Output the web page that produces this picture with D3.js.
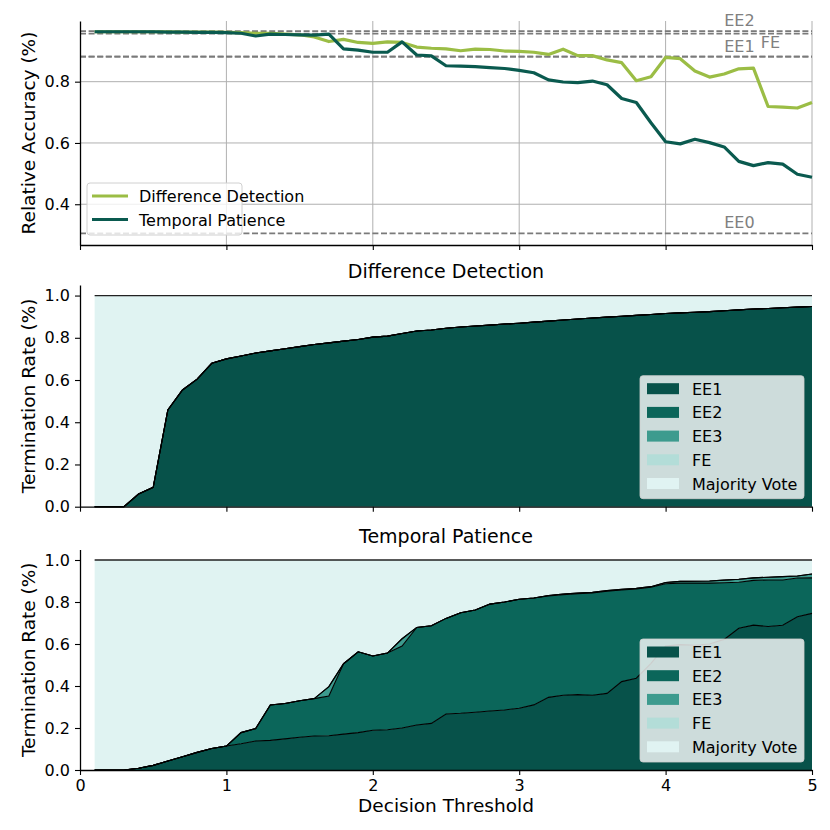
<!DOCTYPE html>
<html>
<head>
<meta charset="utf-8">
<script src="https://cdn.jsdelivr.net/npm/d3@7"></script>
<style>
  body { margin: 0; background: #fff; }
  text { font-family: "DejaVu Sans", sans-serif; }
</style>
</head>
<body>
<div id="chart"></div>
<script>
// decision thresholds (x)
const thresholds = [0.1, 0.2, 0.3, 0.4, 0.5, 0.6, 0.7, 0.8, 0.9, 1.0,
  1.1, 1.2, 1.3, 1.4, 1.5, 1.6, 1.7, 1.8, 1.9, 2.0,
  2.1, 2.2, 2.3, 2.4, 2.5, 2.6, 2.7, 2.8, 2.9, 3.0,
  3.1, 3.2, 3.3, 3.4, 3.5, 3.6, 3.7, 3.8, 3.9, 4.0,
  4.1, 4.2, 4.3, 4.4, 4.5, 4.6, 4.7, 4.8, 4.9, 5.0];

// relative accuracy
const accDiff = [0.963, 0.963, 0.963, 0.963, 0.963, 0.963, 0.962, 0.962, 0.962, 0.961,
  0.960, 0.958, 0.958, 0.955, 0.953, 0.946, 0.931, 0.938, 0.928, 0.925,
  0.930, 0.928, 0.913, 0.909, 0.907, 0.901, 0.906, 0.905, 0.900, 0.899,
  0.896, 0.889, 0.906, 0.885, 0.885, 0.871, 0.862, 0.803, 0.816, 0.879,
  0.875, 0.835, 0.815, 0.825, 0.842, 0.844, 0.719, 0.717, 0.714, 0.732];
const accTemp = [0.963, 0.963, 0.963, 0.963, 0.963, 0.962, 0.962, 0.961, 0.961, 0.960,
  0.958, 0.949, 0.955, 0.954, 0.953, 0.952, 0.955, 0.907, 0.903, 0.896,
  0.896, 0.930, 0.887, 0.884, 0.852, 0.851, 0.849, 0.846, 0.843, 0.837,
  0.829, 0.806, 0.799, 0.797, 0.802, 0.790, 0.745, 0.732, 0.666, 0.604,
  0.597, 0.612, 0.601, 0.587, 0.540, 0.526, 0.536, 0.531, 0.498, 0.488];

// reference accuracies of the single exits
const refNames = ["EE0", "EE1", "EE2", "EE3", "FE"];
const refValues = [0.305, 0.882, 0.965, 0.957, 0.882];

// termination rates, Difference Detection
const diffEE1 = [0, 0, 0, 0.060, 0.092, 0.458, 0.553, 0.604, 0.679, 0.700,
  0.714, 0.728, 0.738, 0.748, 0.758, 0.768, 0.776, 0.784, 0.792, 0.803,
  0.808, 0.820, 0.832, 0.837, 0.845, 0.851, 0.856, 0.860, 0.865, 0.869,
  0.874, 0.879, 0.884, 0.889, 0.894, 0.898, 0.902, 0.906, 0.910, 0.915,
  0.918, 0.921, 0.924, 0.928, 0.932, 0.936, 0.939, 0.942, 0.945, 0.948];
const diffEE2 = [0, 0, 0, 0, 0, 0, 0, 0, 0, 0, 0, 0, 0, 0, 0, 0, 0, 0, 0, 0, 0, 0, 0, 0, 0,
  0, 0, 0, 0, 0, 0, 0, 0, 0, 0, 0, 0, 0, 0, 0, 0, 0, 0, 0, 0, 0, 0, 0, 0, 0];
const diffEE3 = [0, 0, 0, 0, 0, 0, 0, 0, 0, 0, 0, 0, 0, 0, 0, 0, 0, 0, 0, 0, 0, 0, 0, 0, 0,
  0, 0, 0, 0, 0, 0, 0, 0, 0, 0, 0, 0, 0, 0, 0, 0, 0, 0, 0, 0, 0, 0, 0, 0, 0];
const diffFE = [0, 0, 0, 0, 0, 0, 0, 0, 0, 0, 0, 0, 0, 0, 0, 0, 0, 0, 0, 0, 0, 0, 0, 0, 0,
  0, 0, 0, 0, 0, 0, 0, 0, 0, 0, 0, 0, 0, 0, 0, 0, 0, 0, 0, 0, 0, 0, 0, 0, 0];

// termination rates, Temporal Patience
const tempEE1 = [0, 0, 0, 0.008, 0.022, 0.043, 0.063, 0.084, 0.102, 0.114,
  0.125, 0.138, 0.141, 0.148, 0.156, 0.162, 0.163, 0.171, 0.178, 0.189,
  0.192, 0.200, 0.214, 0.222, 0.267, 0.270, 0.275, 0.281, 0.286, 0.294,
  0.310, 0.346, 0.356, 0.359, 0.356, 0.365, 0.421, 0.437, 0.508, 0.590,
  0.597, 0.594, 0.600, 0.622, 0.675, 0.690, 0.683, 0.689, 0.730, 0.746];
const tempEE2 = [0, 0, 0, 0, 0, 0, 0, 0, 0, 0,
  0.053, 0.059, 0.169, 0.169, 0.174, 0.178, 0.189, 0.335, 0.385, 0.354,
  0.365, 0.390, 0.465, 0.465, 0.455, 0.479, 0.487, 0.509, 0.514, 0.519,
  0.509, 0.483, 0.479, 0.481, 0.487, 0.486, 0.436, 0.425, 0.362, 0.297,
  0.293, 0.296, 0.290, 0.270, 0.219, 0.213, 0.222, 0.216, 0.184, 0.169];
const tempEE3 = [0, 0, 0, 0, 0, 0, 0, 0, 0, 0,
  0, 0, 0, 0, 0, 0, 0.045, 0, 0, 0,
  0, 0.035, 0, 0, 0, 0, 0, 0, 0, 0,
  0, 0.002, 0.003, 0.003, 0.003, 0.003, 0.003, 0.003, 0.003, 0.006,
  0.008, 0.009, 0.010, 0.012, 0.014, 0.012, 0.013, 0.016, 0.010, 0.018];
const tempFE = [0, 0, 0, 0, 0, 0, 0, 0, 0, 0, 0, 0, 0, 0, 0, 0, 0, 0, 0, 0, 0, 0, 0, 0, 0,
  0, 0, 0, 0, 0, 0, 0, 0, 0, 0, 0, 0, 0, 0, 0, 0, 0, 0, 0, 0, 0, 0, 0, 0, 0];

const layerKeys = ["EE1", "EE2", "EE3", "FE", "Majority Vote"];
const xTicks = [0, 1, 2, 3, 4, 5];
const accTicks = [0.4, 0.6, 0.8];
const rateTicks = [0, 0.2, 0.4, 0.6, 0.8, 1.0];

const layerColor = d3.scaleOrdinal()
  .domain(layerKeys)
  .range(["#07524a", "#0b665a", "#3d9b8e", "#b3ddd8", "#e0f3f2"]);
const lineColor = { diff: "#9bbd45", temp: "#0a5a4f" };

const svg = d3.select("#chart").append("svg")
  .attr("width", 830)
  .attr("height", 830);

const x = d3.scaleLinear().domain([0, 5]).range([80, 812]);

function styleAxis(g) {
  g.selectAll(".domain").attr("stroke", "#000").attr("stroke-width", 1.3);
  g.selectAll(".tick line").attr("stroke", "#000").attr("stroke-width", 1.1);
  g.selectAll(".tick text").attr("fill", "#000").style("font-size", "16px")
    .style("font-family", "DejaVu Sans");
}

function drawAxes(y, yTicks, fmt, showXLabels, yLabel) {
  const [yb, yt] = y.range();
  svg.append("g")
    .attr("transform", `translate(0,${yb})`)
    .call(d3.axisBottom(x).tickValues(xTicks).tickSize(5).tickPadding(5)
      .tickSizeOuter(0).tickFormat(showXLabels ? d3.format("d") : ""))
    .call(styleAxis);
  svg.append("g")
    .attr("transform", "translate(80,0)")
    .call(d3.axisLeft(y).tickValues(yTicks).tickSize(5).tickPadding(5)
      .tickSizeOuter(0).tickFormat(fmt))
    .call(styleAxis);
  svg.append("text")
    .attr("transform", `translate(35,${(yb + yt) / 2}) rotate(-90)`)
    .attr("text-anchor", "middle")
    .style("font-size", "18.5px")
    .text(yLabel);
}

// ---- accuracy panel ----
const yAcc = d3.scaleLinear().domain([0.267, 0.998]).range([245, 21]);

// grid
svg.append("g").selectAll("line.vg")
  .data(xTicks.filter(d => d > 0))
  .join("line")
  .attr("x1", d => x(d)).attr("x2", d => x(d))
  .attr("y1", yAcc.range()[0]).attr("y2", yAcc.range()[1])
  .attr("stroke", "#b0b0b0").attr("stroke-width", 1);
svg.append("g").selectAll("line.hg")
  .data(accTicks)
  .join("line")
  .attr("x1", x(0)).attr("x2", x(5))
  .attr("y1", d => yAcc(d)).attr("y2", d => yAcc(d))
  .attr("stroke", "#b0b0b0").attr("stroke-width", 1);

// reference lines
svg.append("g").selectAll("line")
  .data(refValues)
  .join("line")
  .attr("x1", x(0)).attr("x2", x(5))
  .attr("y1", d => yAcc(d)).attr("y2", d => yAcc(d))
  .attr("stroke", "#7a7a7a").attr("stroke-width", 1.8)
  .attr("stroke-dasharray", "6,2.6");

// labels for the reference lines (EE3 label sits under EE2)
const refLabelPlace = { EE0: [4.4, -5], EE1: [4.4, -5], EE2: [4.4, -5], FE: [4.65, -9] };
refNames.forEach((n, i) => {
  if (!refLabelPlace[n]) return;
  const [lx, dy] = refLabelPlace[n];
  svg.append("text")
    .attr("x", x(lx)).attr("y", yAcc(refValues[i]) + dy)
    .attr("fill", "#808080")
    .style("font-size", "16px")
    .text(n);
});

const accLine = vals => d3.line()
  .x((d, i) => x(thresholds[i]))
  .y(d => yAcc(d))(vals);

svg.append("path").attr("d", accLine(accDiff))
  .attr("fill", "none").attr("stroke", lineColor.diff).attr("stroke-width", 3.2)
  .attr("stroke-linejoin", "round");
svg.append("path").attr("d", accLine(accTemp))
  .attr("fill", "none").attr("stroke", lineColor.temp).attr("stroke-width", 3.2)
  .attr("stroke-linejoin", "round");

drawAxes(yAcc, accTicks, d3.format(".1f"), false, "Relative Accuracy (%)");

// accuracy legend
const accLegend = svg.append("g").attr("transform", "translate(87,183)");
accLegend.append("rect").attr("width", 155).attr("height", 52).attr("rx", 3)
  .attr("fill", "#fff").attr("fill-opacity", 0.8)
  .attr("stroke", "#d0d0d0");
[["Difference Detection", lineColor.diff], ["Temporal Patience", lineColor.temp]].forEach(([lbl, c], i) => {
  const row = accLegend.append("g").attr("transform", `translate(0,${13 + i * 23.5})`);
  row.append("line").attr("x1", 5).attr("x2", 41).attr("stroke", c).attr("stroke-width", 3.2);
  row.append("text").attr("x", 52).attr("y", 6).style("font-size", "16px").text(lbl);
});

// ---- termination rate panels ----
function ratePanel(y, title, layers) {
  const rows = thresholds.map((t, i) => {
    const r = { t };
    layerKeys.slice(0, 4).forEach((k, j) => { r[k] = layers[j][i]; });
    r["Majority Vote"] = 1 - layers.reduce((s, l) => s + l[i], 0);
    return r;
  });
  const series = d3.stack().keys(layerKeys)(rows);

  const area = d3.area()
    .x(d => x(d.data.t))
    .y0(d => y(d[0]))
    .y1(d => y(d[1]));
  const edge = d3.line()
    .x(d => x(d.data.t))
    .y(d => y(d[1]));

  svg.append("g").selectAll("path")
    .data(series)
    .join("path")
    .attr("d", area)
    .attr("fill", d => layerColor(d.key));
  svg.append("g").selectAll("path")
    .data(series)
    .join("path")
    .attr("d", edge)
    .attr("fill", "none")
    .attr("stroke", d => d.key === "Majority Vote" ? "#222" : "#000")
    .attr("stroke-width", d => d.key === "Majority Vote" ? 1.3 : 1.1);

  const [yb, yt] = y.range();
  svg.append("text")
    .attr("x", (x(0) + x(5)) / 2).attr("y", yt - 7)
    .attr("text-anchor", "middle")
    .style("font-size", "19px")
    .text(title);

  // legend
  const lg = svg.append("g").attr("transform", `translate(640,${yb - 131})`);
  lg.append("rect").attr("width", 164).attr("height", 123).attr("rx", 3)
    .attr("fill", "#fff").attr("fill-opacity", 0.8)
    .attr("stroke", "#d0d0d0").attr("stroke-opacity", 0.8);
  layerKeys.forEach((k, i) => {
    const row = lg.append("g").attr("transform", `translate(0,${13 + i * 23.7})`);
    row.append("rect").attr("x", 7).attr("y", -5.5).attr("width", 32).attr("height", 11)
      .attr("fill", layerColor(k));
    row.append("text").attr("x", 52).attr("y", 6).style("font-size", "16px").text(k);
  });
}

const yDiff = d3.scaleLinear().domain([0, 1.05]).range([506.7, 285]);
ratePanel(yDiff, "Difference Detection", [diffEE1, diffEE2, diffEE3, diffFE]);
drawAxes(yDiff, rateTicks, d3.format(".1f"), false, "Termination Rate (%)");

const yTemp = d3.scaleLinear().domain([0, 1.05]).range([770, 549.5]);
ratePanel(yTemp, "Temporal Patience", [tempEE1, tempEE2, tempEE3, tempFE]);
drawAxes(yTemp, rateTicks, d3.format(".1f"), true, "Termination Rate (%)");

svg.append("text")
  .attr("x", (x(0) + x(5)) / 2).attr("y", 812)
  .attr("text-anchor", "middle")
  .style("font-size", "18.5px")
  .text("Decision Threshold");
</script>
</body>
</html>
